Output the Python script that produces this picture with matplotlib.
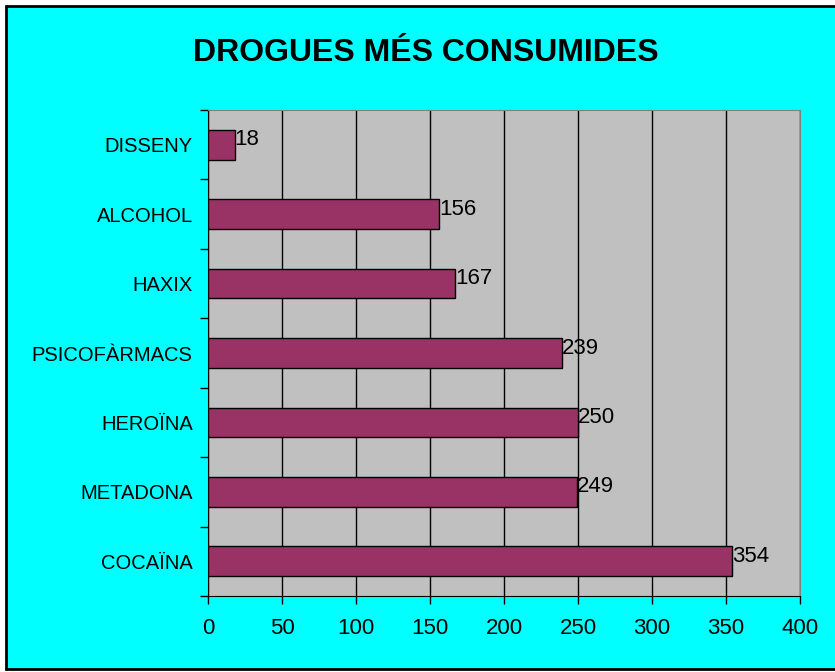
import matplotlib
matplotlib.use("Agg")
import matplotlib.pyplot as plt
from matplotlib.patches import Rectangle

# data, top to bottom as in the chart
drugs  = ["DISSENY", "ALCOHOL", "HAXIX", "PSICOFÀRMACS", "HEROÏNA", "METADONA", "COCAÏNA"]
counts = [18, 156, 167, 239, 250, 249, 354]
xticks = [0, 50, 100, 150, 200, 250, 300, 350, 400]

plt.rcParams["font.family"] = ["Liberation Sans", "DejaVu Sans"]

fig = plt.figure(figsize=(8.35, 6.72), dpi=100)
fig.patch.set_facecolor("white")

# cyan chart area with black frame
fig.patches.append(Rectangle((6 / 835, 3 / 672), 1.0, 663 / 672,
                             transform=fig.transFigure, facecolor="#00ffff",
                             edgecolor="black", linewidth=2, zorder=-1))

ax = fig.add_axes([208 / 835, 1 - 596 / 672, 592 / 835, 486 / 672])
ax.set_zorder(2)
ax.set_facecolor("#c0c0c0")

pos = list(range(len(drugs)))
ax.barh(pos, counts, height=0.43, color="#993366", edgecolor="black",
        linewidth=1, zorder=3)
for p, c in zip(pos, counts):
    ax.text(c, p - 0.07, str(c), va="center", ha="left", fontsize=16,
            zorder=4)

ax.set_xlim(0, 400)
ax.set_ylim(len(drugs) - 0.5, -0.5)
ax.set_xticks(xticks)
ax.set_xticklabels([str(t) for t in xticks], fontsize=16)
ax.set_yticks(pos)
ax.set_yticklabels(drugs, fontsize=14.5)
ax.tick_params(axis="y", length=0, pad=11)
ax.set_yticks([p + 0.5 for p in [-1] + pos], minor=True)
ax.tick_params(axis="y", which="minor", length=6, width=1, direction="out")
ax.tick_params(axis="x", length=6, width=1, direction="out", pad=10)

ax.xaxis.grid(True, color="black", linewidth=1)
ax.set_axisbelow(True)

for side in ["top", "right"]:
    ax.spines[side].set_color("#808080")
for side in ["left", "bottom"]:
    ax.spines[side].set_color("black")

fig.text(426 / 835, 1 - 53 / 672, "DROGUES MÉS CONSUMIDES", ha="center",
         va="center", fontsize=23, fontweight="bold")

fig.savefig("out.png", dpi=100)
